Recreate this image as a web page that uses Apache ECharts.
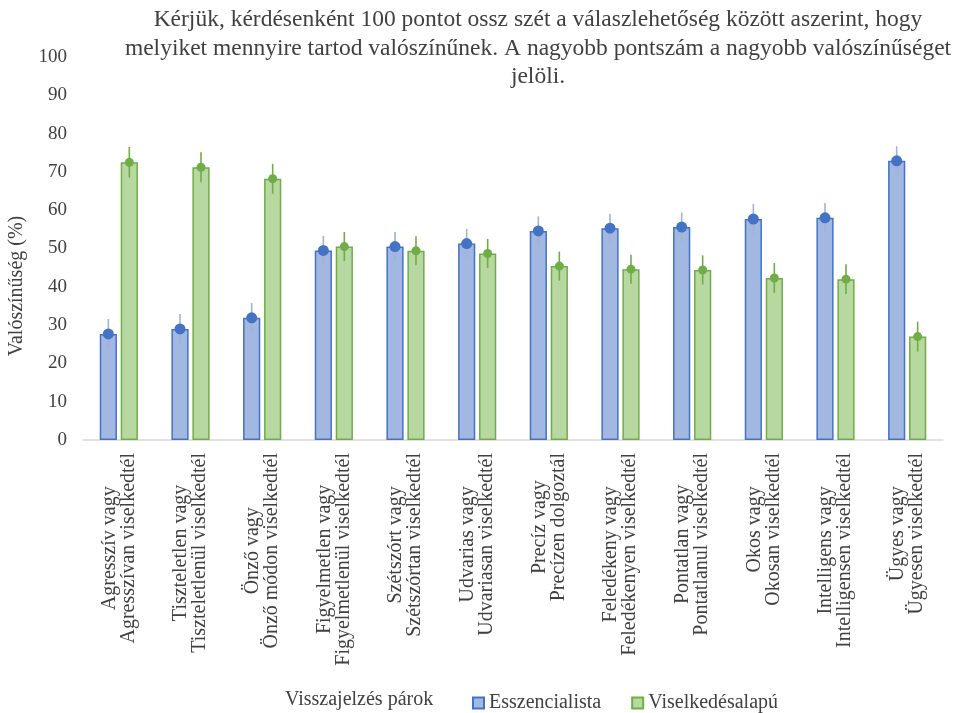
<!DOCTYPE html>
<html>
<head>
<meta charset="utf-8">
<script src="https://cdn.jsdelivr.net/npm/echarts@6/dist/echarts.min.js"></script>
<style>
html,body{margin:0;padding:0;background:#fff;}
#chart{width:970px;height:713px;}
</style>
</head>
<body>
<div id="chart"></div>
<script>
const categories = [
  "Agresszív vagy\nAgresszívan viselkedtél",
  "Tiszteletlen vagy\nTiszteletlenül viselkedtél",
  "Önző vagy\nÖnző módon viselkedtél",
  "Figyelmetlen vagy\nFigyelmetlenül viselkedtél",
  "Szétszórt vagy\nSzétszórtan viselkedtél",
  "Udvarias vagy\nUdvariasan viselkedtél",
  "Precíz vagy\nPrecízen dolgoztál",
  "Feledékeny vagy\nFeledékenyen viselkedtél",
  "Pontatlan vagy\nPontatlanul viselkedtél",
  "Okos vagy\nOkosan viselkedtél",
  "Intelligens vagy\nIntelligensen viselkedtél",
  "Ügyes vagy\nÜgyesen viselkedtél"
];
const essVals = [27.7, 29.0, 31.9, 49.5, 50.5, 51.3, 54.6, 55.3, 55.6, 57.7, 58.0, 72.9];
const essErr  = [3.9, 3.9, 3.9, 3.8, 3.8, 3.8, 3.8, 3.8, 3.8, 3.9, 3.9, 3.8];
const visVals = [72.5, 71.2, 68.2, 50.5, 49.4, 48.7, 45.4, 44.6, 44.4, 42.3, 42.0, 27.0];
const visErr  = [4.0, 3.9, 3.9, 3.8, 3.8, 3.8, 3.8, 3.8, 3.8, 3.9, 3.9, 3.9];
const yTicks = [0, 10, 20, 30, 40, 50, 60, 70, 80, 90, 100];
const seriesNames = ["Esszencialista", "Viselkedésalapú"];
const titleText = "Kérjük, kérdésenként 100 pontot ossz szét a válaszlehetőség között aszerint, hogy\nmelyiket mennyire tartod valószínűnek. A nagyobb pontszám a nagyobb valószínűséget\njelöli.";
const xAxisTitle = "Visszajelzés párok";
const yAxisTitle = "Valószínűség (%)";

const FONT = "'Liberation Serif', 'Times New Roman', serif";
const TXT = '#404040';
const BAR_W = 0.24, BAR_GAP = 0.22;

const chart = echarts.init(document.getElementById('chart'));

const errData = categories.map((c, i) => [i, essVals[i], essErr[i], visVals[i], visErr[i]]);

function renderErr(params, api) {
  const i = api.value(0);
  const band = api.size([1, 0])[0];
  const w = band * BAR_W;
  const g = w * BAR_GAP;
  const off = (w + g) / 2;
  const children = [];
  const defs = [
    {v: api.value(1), e: api.value(2), dx: -off, line: '#A3B2D2', dot: '#4472C4', r: 5.5},
    {v: api.value(3), e: api.value(4), dx: off, line: '#70AD47', dot: '#70AD47', r: 4.5}
  ];
  defs.forEach(d => {
    const c = api.coord([i, d.v]);
    const hi = api.coord([i, d.v + d.e]);
    const lo = api.coord([i, d.v - d.e]);
    const x = c[0] + d.dx;
    children.push({type: 'line', shape: {x1: x, y1: hi[1], x2: x, y2: lo[1]}, style: {stroke: d.line, lineWidth: 1.6}});
    children.push({type: 'circle', shape: {cx: x, cy: c[1], r: d.r}, style: {fill: d.dot}});
  });
  return {type: 'group', children};
}

chart.setOption({
  animation: false,
  backgroundColor: '#fff',
  grid: {left: 83, right: 27, top: 57, bottom: 273, containLabel: false, outerBoundsMode: 'none'},
  graphic: [
    {type: 'text', x: 538, y: 6, style: {text: titleText, textAlign: 'center', textVerticalAlign: 'top', font: '23.5px ' + FONT, lineHeight: 28.5, fill: TXT}},
    {type: 'text', x: 285, y: 700, style: {text: xAxisTitle, textAlign: 'left', textVerticalAlign: 'middle', font: '20px ' + FONT, fill: TXT}},
    {type: 'text', x: 17, y: 286, rotation: Math.PI / 2, style: {text: yAxisTitle, textAlign: 'center', textVerticalAlign: 'middle', font: '20px ' + FONT, fill: TXT}}
  ],
  legend: {
    data: seriesNames,
    left: 467, top: 688,
    itemWidth: 11, itemHeight: 11, itemGap: 30,
    icon: 'rect',
    textStyle: {fontFamily: FONT, fontSize: 20, color: TXT}
  },
  xAxis: {
    type: 'category',
    data: categories,
    axisLine: {lineStyle: {color: '#D9D9D9', width: 1.5}},
    axisTick: {show: false},
    axisLabel: {
      rotate: 90, margin: 13, interval: 0,
      formatter: v => v.split('\n').map(s => '{a|' + s + '}').join('\n'),
      rich: {a: {align: 'center', fontFamily: FONT, fontSize: 20, lineHeight: 19, color: TXT}}
    }
  },
  yAxis: {
    type: 'value', min: yTicks[0], max: yTicks[yTicks.length - 1], interval: 10,
    axisLine: {show: false}, axisTick: {show: false}, splitLine: {show: false},
    axisLabel: {margin: 16, fontFamily: FONT, fontSize: 19, color: TXT}
  },
  series: [
    {name: seriesNames[0], type: 'bar', data: essVals, barWidth: (BAR_W * 100) + '%', barGap: (BAR_GAP * 100) + '%',
     itemStyle: {color: '#A2B8E1', borderColor: '#4472C4', borderWidth: 1.5}},
    {name: seriesNames[1], type: 'bar', data: visVals, barWidth: (BAR_W * 100) + '%',
     itemStyle: {color: '#B8D8A2', borderColor: '#70AD47', borderWidth: 1.5}},
    {type: 'custom', data: errData, renderItem: renderErr, z: 10, silent: true,
     encode: {x: 0, y: [1, 3]}}
  ]
});
</script>
</body>
</html>
